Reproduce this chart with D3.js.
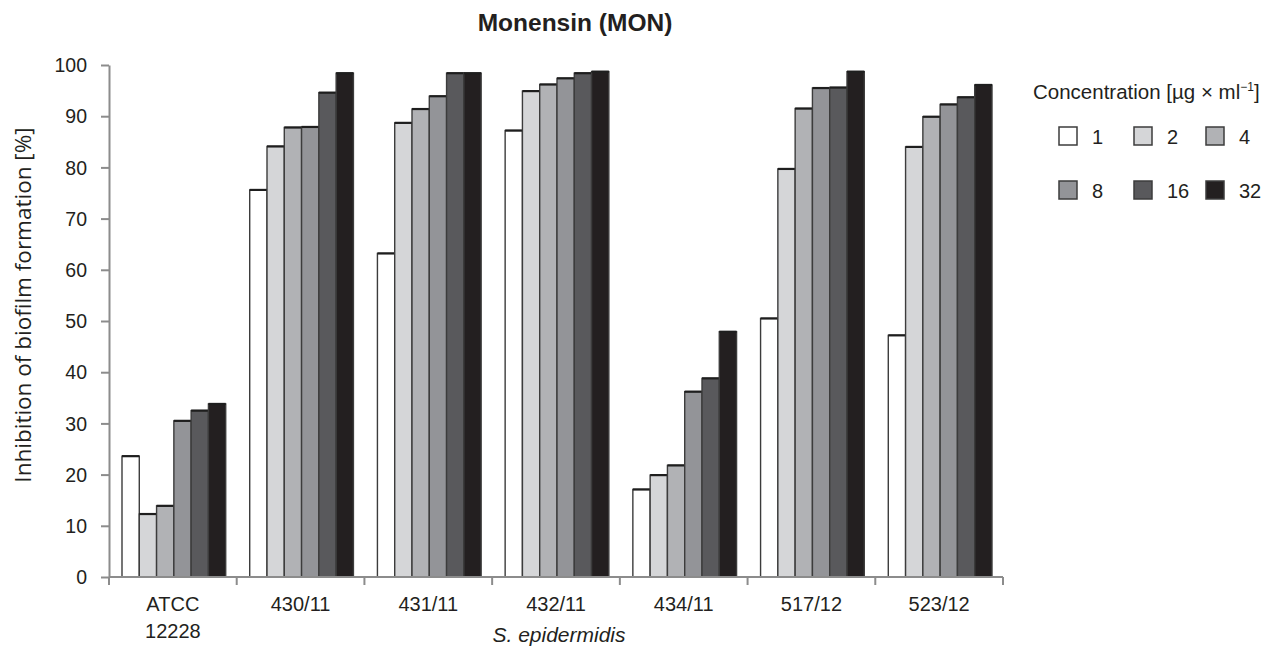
<!DOCTYPE html>
<html>
<head>
<meta charset="utf-8">
<script src="https://cdn.jsdelivr.net/npm/d3@7"></script>
<style>
  html, body { margin: 0; padding: 0; background: #fff; }
  svg { display: block; font-family: "Liberation Sans", Arial, sans-serif; }
</style>
</head>
<body>
<svg id="chart" width="1265" height="652"></svg>
<script>
// Strains (x categories) and their two-line labels
const strains = ["ATCC 12228", "430/11", "431/11", "432/11", "434/11", "517/12", "523/12"];
const strainLabels = [["ATCC", "12228"], ["430/11"], ["431/11"], ["432/11"], ["434/11"], ["517/12"], ["523/12"]];

// Concentrations (µg/ml) – one series each
const concentrations = ["1", "2", "4", "8", "16", "32"];
const concentrationColors = ["#ffffff", "#d5d6d8", "#b1b2b5", "#939498", "#59595c", "#231f20"];

// Inhibition of biofilm formation [%] per concentration, in strain order
const conc1  = [23.6, 75.6, 63.2, 87.2, 17.1, 50.5, 47.2];
const conc2  = [12.3, 84.1, 88.7, 94.9, 19.9, 79.7, 84.0];
const conc4  = [13.9, 87.8, 91.4, 96.2, 21.8, 91.5, 89.9];
const conc8  = [30.5, 87.9, 93.9, 97.4, 36.2, 95.5, 92.3];
const conc16 = [32.5, 94.6, 98.4, 98.4, 38.8, 95.6, 93.7];
const conc32 = [33.8, 98.4, 98.4, 98.7, 47.9, 98.7, 96.1];
const seriesValues = [conc1, conc2, conc4, conc8, conc16, conc32];

const yTicks = [0, 10, 20, 30, 40, 50, 60, 70, 80, 90, 100];

const svg = d3.select("#chart");
const textColor = "#231f20";
const axisColor = "#8c8c8c";
const edgeColor = "#3c3c3c";

const margin = { left: 109, top: 65 };
const plotRight = 1003;
const plotBottom = 577;

const x = d3.scaleBand().domain(strains).range([margin.left, plotRight]).padding(0);
const xi = d3.scaleBand().domain(concentrations).range([13, x.bandwidth() - 11]).padding(0);
const y = d3.scaleLinear().domain([0, 100]).range([plotBottom, margin.top]);

// Title
svg.append("text")
  .attr("x", 575).attr("y", 31)
  .attr("text-anchor", "middle")
  .attr("font-size", 24.5).attr("font-weight", "bold")
  .attr("fill", textColor)
  .text("Monensin (MON)");

// Bars
const groups = svg.append("g").selectAll("g")
  .data(strains)
  .join("g")
  .attr("transform", d => `translate(${x(d)},0)`);

const cells = groups.selectAll("g")
  .data((d, i) => concentrations.map((c, j) => ({ c, j, v: seriesValues[j][i] })))
  .join("g");

cells.append("rect")
  .attr("x", d => xi(d.c))
  .attr("y", d => y(d.v))
  .attr("width", xi.bandwidth())
  .attr("height", d => y(0) - y(d.v))
  .attr("fill", d => concentrationColors[d.j])
  .attr("stroke", edgeColor)
  .attr("stroke-width", 1.4);

// darker cap along the top edge of each bar
cells.append("line")
  .attr("x1", d => xi(d.c))
  .attr("x2", d => xi(d.c) + xi.bandwidth())
  .attr("y1", d => y(d.v))
  .attr("y2", d => y(d.v))
  .attr("stroke", "#1e1e1e")
  .attr("stroke-width", 2.2);

// Y axis
const yAxis = d3.axisLeft(y).tickValues(yTicks).tickSize(8).tickPadding(14).tickSizeOuter(0);
const gy = svg.append("g").attr("transform", `translate(${margin.left},0)`).call(yAxis);
gy.select(".domain").attr("stroke", axisColor).attr("stroke-width", 2);
gy.selectAll(".tick line").attr("stroke", axisColor).attr("stroke-width", 2);
gy.selectAll(".tick text")
  .attr("font-size", 19.5).attr("fill", textColor).attr("dy", "0.34em")
  .attr("font-family", "Liberation Sans, Arial, sans-serif");

// X axis: line with ticks at the strain group boundaries
const boundaries = strains.map(s => x(s)).concat([x(strains[strains.length - 1]) + x.bandwidth()]);
svg.append("line")
  .attr("x1", margin.left).attr("x2", plotRight)
  .attr("y1", plotBottom).attr("y2", plotBottom)
  .attr("stroke", axisColor).attr("stroke-width", 2);
svg.append("g").selectAll("line")
  .data(boundaries)
  .join("line")
  .attr("x1", d => d).attr("x2", d => d)
  .attr("y1", plotBottom).attr("y2", plotBottom + 8)
  .attr("stroke", axisColor).attr("stroke-width", 2);

// Strain labels
const xl = svg.append("g").selectAll("text")
  .data(strains)
  .join("text")
  .attr("text-anchor", "middle")
  .attr("font-size", 20)
  .attr("fill", textColor)
  .attr("x", d => x(d) + x.bandwidth() / 2)
  .attr("y", 611);
xl.each(function (d, i) {
  const t = d3.select(this);
  strainLabels[i].forEach((line, k) => {
    t.append("tspan").attr("x", x(d) + x.bandwidth() / 2).attr("dy", k === 0 ? 0 : 27).text(line);
  });
});

// X axis title
svg.append("text")
  .attr("x", 559).attr("y", 642)
  .attr("text-anchor", "middle")
  .attr("font-size", 21).attr("font-style", "italic")
  .attr("fill", textColor)
  .text("S. epidermidis");

// Y axis title
svg.append("text")
  .attr("transform", `translate(31,305) rotate(-90)`)
  .attr("text-anchor", "middle")
  .attr("font-family", "Open Sans, sans-serif")
  .attr("font-size", 22.5)
  .attr("fill", textColor)
  .text("Inhibition of biofilm formation [%]");

// Legend
const legend = svg.append("g");
const lt = legend.append("text")
  .attr("x", 1033).attr("y", 99)
  .attr("font-size", 20.5)
  .attr("fill", textColor);
lt.append("tspan").text("Concentration [µg × ml");
lt.append("tspan").attr("font-size", 12).attr("dy", -8).text("−1");
lt.append("tspan").attr("dy", 8).text("]");

const legendCols = [1059, 1134, 1206];
const legendRows = [127, 181];
concentrations.forEach((c, i) => {
  const col = i % 3, row = Math.floor(i / 3);
  const lx = legendCols[col], ly = legendRows[row];
  legend.append("rect")
    .attr("x", lx).attr("y", ly).attr("width", 18).attr("height", 18)
    .attr("fill", concentrationColors[i])
    .attr("stroke", edgeColor).attr("stroke-width", 1.5);
  legend.append("text")
    .attr("x", lx + 33).attr("y", ly + 17)
    .attr("font-size", 20).attr("fill", textColor)
    .text(c);
});
</script>
</body>
</html>
